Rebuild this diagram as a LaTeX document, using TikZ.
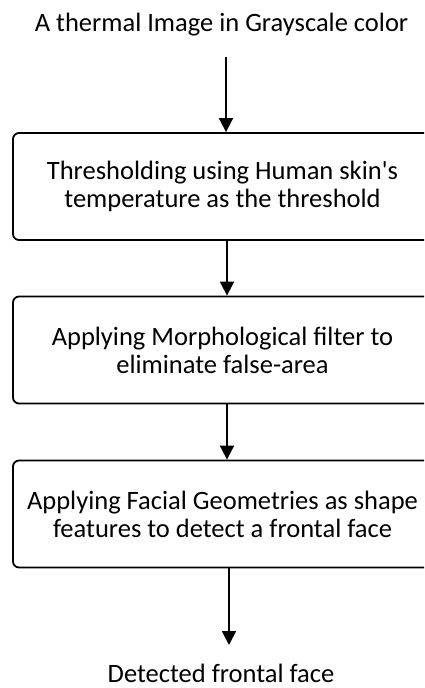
\documentclass[tikz,border=0pt]{standalone}
\usepackage{fontspec}
\setmainfont{Carlito}
\usetikzlibrary{arrows.meta}
\tikzset{
  stepbox/.style={draw, line width=1.8pt, rounded corners=6pt, minimum width=419pt,
    minimum height=107pt, align=center, inner sep=0pt},
  label/.style={inner sep=0pt},
  arr/.style={line width=1.8pt, -{Triangle[length=14pt,width=14pt]}}
}
\begin{document}
\begin{tikzpicture}[x=1pt,y=-1pt, font=\fontsize{26.5}{28}\selectfont]
\useasboundingbox (0,0) rectangle (424,688);
\clip (0,0) rectangle (424,688);
% input and output labels
\node[label, anchor=base] (src) at (221.5,31) {A thermal Image in Grayscale color};
\node[label, anchor=base] (dst) at (221,682) {Detected frontal face};
% processing steps
\node[stepbox] (s1) at (222.5,186.5) {Thresholding using Human skin\textquotesingle s\\temperature as the threshold};
\node[stepbox] (s2) at (222.5,350) {Applying Morphological filter to\\eliminate false-area};
\node[stepbox] (s3) at (222.5,514) {Applying Facial Geometries as shape\\features to detect a frontal face};
% arrow anchor points
\coordinate (a0) at (226,57);
\coordinate (a4) at (229,645);
\draw[arr] (a0) -- (s1.north -| a0);
\draw[arr] (s1.south -| 227,0) -- (s2.north -| 227,0);
\draw[arr] (s2.south -| 227,0) -- (s3.north -| 227,0);
\draw[arr] (s3.south -| a4) -- (a4);
\end{tikzpicture}
\end{document}
